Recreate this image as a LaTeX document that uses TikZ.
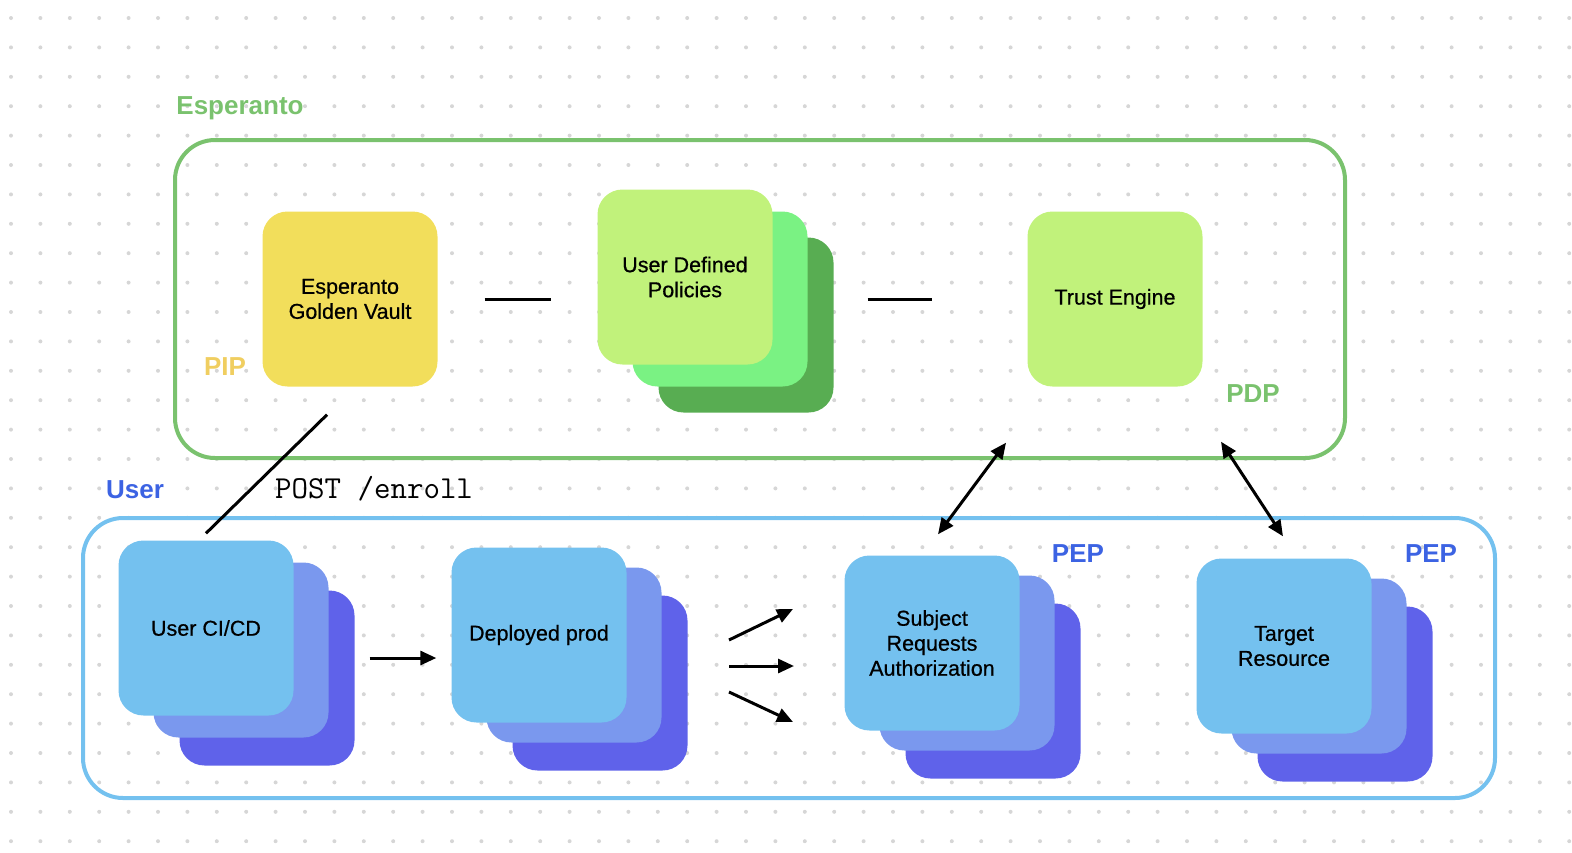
\documentclass[tikz,border=0pt]{standalone}
\usepackage{fontspec}
\setmainfont{Liberation Sans}
\newfontfamily\cardfont{Liberation Sans}[FakeBold=0.6]
\usepackage{tikz}
\usetikzlibrary{arrows.meta}

\definecolor{espgreen}{RGB}{122,194,110}
\definecolor{vaultyellow}{RGB}{242,222,91}
\definecolor{pipyellow}{RGB}{240,206,96}
\definecolor{lightgreen}{RGB}{193,242,123}
\definecolor{midgreen}{RGB}{122,242,131}
\definecolor{darkgreen}{RGB}{88,173,82}
\definecolor{userblue}{RGB}{116,193,239}
\definecolor{midblue}{RGB}{122,152,238}
\definecolor{darkblue}{RGB}{95,98,234}
\definecolor{labelblue}{RGB}{60,99,227}
\definecolor{dotgray}{RGB}{214,214,214}

\begin{document}
\begin{tikzpicture}[x=1pt,y=-1pt,
				card/.style={rectangle,rounded corners=25pt,minimum width=175pt,minimum height=175pt,
					inner sep=0pt,align=center,font=\cardfont\fontsize{21.5}{25}\selectfont},
				frame/.style={rectangle,rounded corners=40pt,line width=4pt,inner sep=0pt},
				tag/.style={font=\fontsize{26}{30}\selectfont\bfseries,inner sep=0pt},
				link/.style={line width=3pt},
				arr/.style={line width=3pt,-{Triangle[length=16pt,width=14pt]}},
				dblarr/.style={line width=3pt,{Triangle[length=16pt,width=14pt]}-{Triangle[length=16pt,width=14pt]}}]
	\useasboundingbox (0,0) rectangle (1572,852);
	% dotted canvas
	\foreach \i in {0,...,53}
		\foreach \j in {0,...,28}
			\fill[dotgray] (11+29.4*\i,18+29.4*\j) circle (2pt);

	% Esperanto group
	\node[frame,draw=espgreen,minimum width=1170pt,minimum height=318pt] (E) at (760,299) {};
	\node[tag,text=espgreen] (Elabel) at (240,108) {Esperanto};
	\node[card,fill=vaultyellow] (V) at (350,299) {Esperanto\\Golden Vault};
	\node[tag,text=pipyellow] (PIP) at (225,367) {PIP};
	\node[card,fill=darkgreen] (P3) at (746,325) {};
	\node[card,fill=midgreen] (P2) at (720,299) {};
	\node[card,fill=lightgreen] (P1) at (685,277) {User Defined\\Policies};
	\node[card,fill=lightgreen] (T) at (1115,299) {Trust Engine};
	\node[tag,text=espgreen] (PDP) at (1253,394) {PDP};

	% User group
	\node[frame,draw=userblue,minimum width=1412pt,minimum height=280pt] (U) at (789,658) {};
	\node[tag,text=labelblue] (Ulabel) at (135,490) {User};
	\node[card,fill=darkblue] (C3) at (267,678) {};
	\node[card,fill=midblue] (C2) at (241,650) {};
	\node[card,fill=userblue] (C1) at (206,628) {User CI/CD};
	\node[card,fill=darkblue] (D3) at (600,683) {};
	\node[card,fill=midblue] (D2) at (574,655) {};
	\node[card,fill=userblue] (D1) at (539,635) {Deployed prod};
	\node[card,fill=darkblue] (S3) at (993,691) {};
	\node[card,fill=midblue] (S2) at (967,663) {};
	\node[card,fill=userblue] (S1) at (932,643) {Subject\\Requests\\Authorization};
	\node[tag,text=labelblue] (PEP1) at (1078,554) {PEP};
	\node[card,fill=darkblue] (R3) at (1345,694) {};
	\node[card,fill=midblue] (R2) at (1319,666) {};
	\node[card,fill=userblue] (R1) at (1284,646) {Target\\Resource};
	\node[tag,text=labelblue] (PEP2) at (1431,554) {PEP};

	% connectors
	\draw[link,shorten <=47pt,shorten >=46pt] (V.east) -- (V.east -| P1.west);
	\draw[link,shorten <=34pt,shorten >=95pt] (T.west -| P3.east) -- (T.west);
	\draw[link] ([shift={(0,-7)}]C1.north) -- ([shift={(-23,28)}]V.south);
	\node[font=\fontsize{32}{36}\ttfamily,anchor=west,inner sep=0pt] (enroll) at (275,489) {POST /enroll};
	\draw[arr] ([shift={(15,-20)}]C3.east) -- ([shift={(-15,23)}]D1.west);
	\coordinate (fanA) at (729,640);
	\coordinate (fanB) at (729,666);
	\coordinate (fanC) at (729,692);
	\coordinate (tipA) at (793,609);
	\coordinate (tipB) at (794,666);
	\coordinate (tipC) at (793,722);
	\draw[arr] (fanA) -- (tipA);
	\draw[arr] (fanB) -- (tipB);
	\draw[arr] (fanC) -- (tipC);
	\draw[dblarr] ([shift={(6,-21)}]S1.north) -- ([shift={(-109,56)}]T.south);
	\draw[dblarr] ([shift={(-1,-22)}]R1.north) -- ([shift={(106,55)}]T.south);
\end{tikzpicture}
\end{document}
